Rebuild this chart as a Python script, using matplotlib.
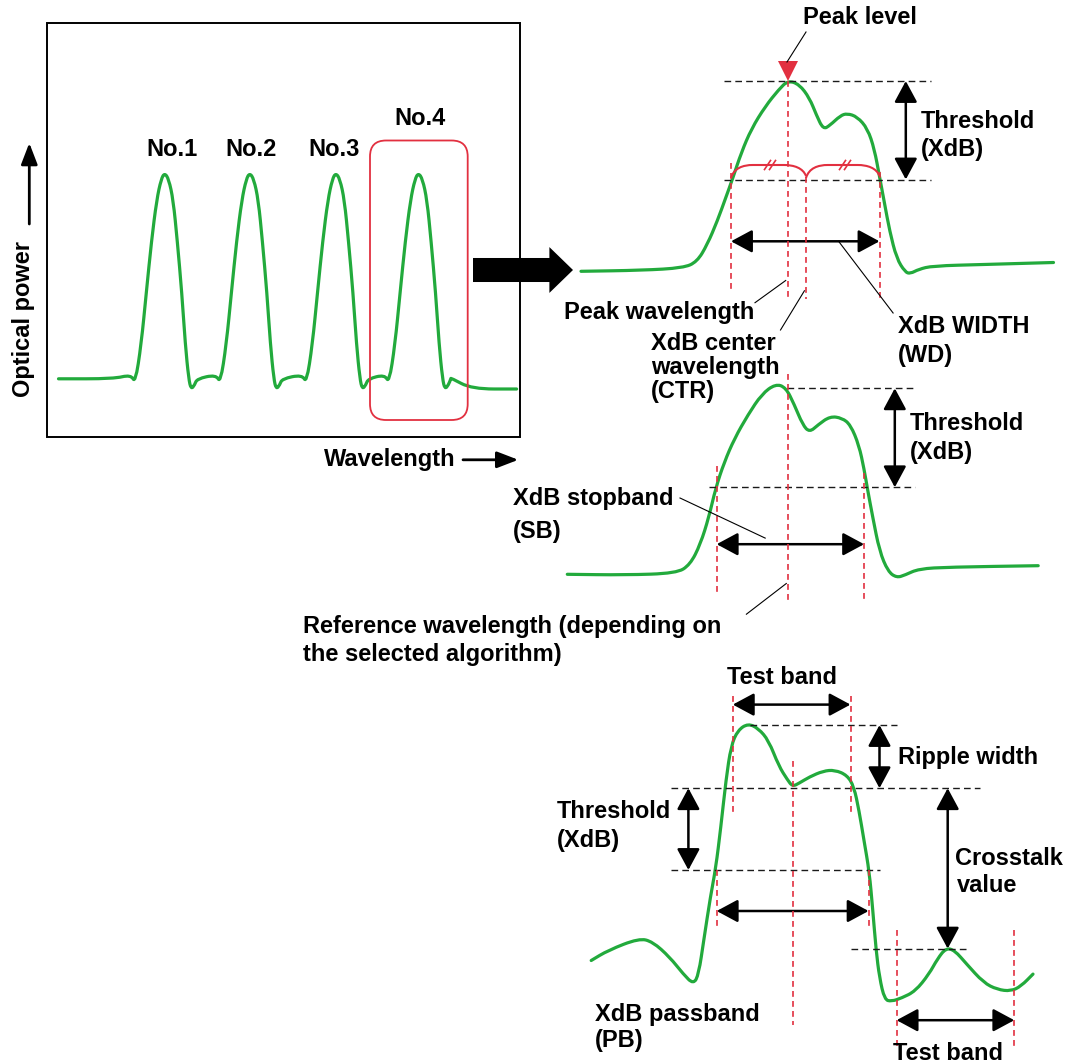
import matplotlib
matplotlib.use("Agg")
import matplotlib.pyplot as plt
from matplotlib.path import Path
from matplotlib.patches import PathPatch, FancyArrowPatch, FancyBboxPatch, Rectangle

plt.rcParams['font.family'] = ['Liberation Sans', 'DejaVu Sans']

# ---------------- data (pixel-space diagram) ----------------
# Left overview spectrum: 4 channel peaks
PEAK_LABELS = ["No.1", "No.2", "No.3", "No.4"]
PEAK_CENTERS = [164.6, 249.7, 335.8, 418.4]
PROFILE_DX = [-33.7, -29.3, -23.4, -18.3, -13.1, -7.9, -3.4, 0.0, 4.1, 8.6, 12.7, 17.2, 20.7, 24.1, 26.5, 30.0, 32.4]
PROFILE_Y = [374.7, 383.0, 344.4, 292.7, 241.0, 199.8, 179.0, 173.0, 179.0, 199.8, 241.0, 292.7, 344.4, 378.8, 389.2, 385.0, 378.8]
LEAD_X = [58.5, 113.6]
LEAD_Y = [378.8, 378.8]
TAIL_X = [451.0, 471.8, 516.6]
TAIL_Y = [378.0, 389.0, 389.0]

# Panel A: peak / XdB width
A_X = [581, 642.4, 683.3, 697, 707.2, 717.4, 726, 732.8, 741.3, 751.5, 765.2, 778.8, 788, 799.3, 809.5,
       816.4, 823.2, 830, 840.3, 847.1, 857.3, 867.6, 874.4, 879.5, 884.6, 889.7, 896.6, 905.1, 910.2,
       918.7, 932.4, 983.6, 1053.5]
A_Y = [271.3, 270.3, 267.9, 261.8, 244.7, 220.8, 197, 178.2, 152.6, 128.7, 106.5, 89.5, 80.5, 84.4, 98,
       115, 129.4, 125.3, 115.7, 113.4, 116.8, 128.7, 149.2, 176.5, 203.8, 231.1, 258.4, 272, 273.7,
       269.3, 265.9, 264.5, 262.5]

# Panel B: stopband
B_X = [567.3, 625.3, 676.5, 690.1, 700.4, 708.9, 715.7, 724.2, 734.5, 748.1, 761.8, 775.4, 785.7, 794.2,
       802.7, 809.5, 818.1, 830, 842, 850.5, 859, 864.1, 867.6, 872.7, 879.5, 888, 896.6, 905.1, 918.7,
       949.4, 1038.2]
B_Y = [574.3, 575, 573.3, 564.7, 544.2, 517, 488, 462.4, 438.5, 414.6, 394.1, 384.0, 387.3, 404.4,
       424.8, 432.3, 424.8, 416.3, 418, 424.8, 445.3, 469.2, 489.7, 517, 551.1, 571.5, 577.7, 575, 568.8,
       567.1, 565.7]

# Panel C: passband / ripple / crosstalk
C_X = [591.2, 608.2, 639, 652.6, 669.7, 683.3, 693.5, 698.7, 703.8, 710.6, 715.7, 720.8, 726, 731.1,
       737.9, 748.1, 758.4, 768.6, 778.8, 787.4, 792.5, 799.3, 809.5, 823.2, 834.8, 847.1, 853.9, 859,
       864.1, 869.3, 872.7, 876.1, 879.5, 884.6, 891.4, 901.7, 915.3, 929, 937.5, 946, 954.6, 966.5,
       983.6, 997.2, 1010.9, 1021.1, 1033]
C_Y = [960.5, 950.3, 938.3, 941.7, 957.1, 974.1, 984.4, 974.1, 940, 895.7, 868.4, 827.4, 779.7, 745.5,
       730.2, 723.5, 728.5, 740.4, 766, 779.7, 786.5, 783.1, 776.9, 771.0, 770.0, 775.2, 786.5, 810.4,
       841.1, 871.8, 909.3, 950.3, 977.6, 999.7, 1001.4, 998, 991.2, 974.1, 958.8, 948.0, 950.3, 963.9,
       982.7, 989.5, 991.2, 986.1, 974.1]

GREEN = '#22aa3c'
RED = '#e23040'

# ---------------- figure ----------------
fig = plt.figure(figsize=(10.75, 10.64), dpi=100)
ax = fig.add_axes([0, 0, 1, 1])
ax.set_xlim(0, 1075)
ax.set_ylim(1064, 0)
ax.axis('off')

FS = 17.0


def smooth_curve(xs, ys, **kw):
    pts = list(zip(xs, ys))
    verts = [pts[0]]
    codes = [Path.MOVETO]
    mids = [((pts[i][0] + pts[i + 1][0]) / 2, (pts[i][1] + pts[i + 1][1]) / 2) for i in range(len(pts) - 1)]
    verts.append(mids[0]); codes.append(Path.LINETO)
    for i in range(1, len(pts) - 1):
        verts += [pts[i], mids[i]]
        codes += [Path.CURVE3, Path.CURVE3]
    verts.append(pts[-1]); codes.append(Path.LINETO)
    ax.add_patch(PathPatch(Path(verts, codes), fill=False, **kw))


def darrow(p0, p1, lw=1.8):
    ax.add_patch(FancyArrowPatch(p0, p1, arrowstyle='<|-|>,head_length=13,head_width=7',
                                 mutation_scale=1, lw=lw, color='black', shrinkA=0, shrinkB=0))


def sarrow(p0, p1, lw=1.6):
    ax.add_patch(FancyArrowPatch(p0, p1, arrowstyle='-|>,head_length=13,head_width=5',
                                 mutation_scale=1, lw=lw, color='black', shrinkA=0, shrinkB=0))


def bdash(x0, x1, y):
    ax.plot([x0, x1], [y, y], color='#1a1a1a', lw=1.0, dashes=(4.8, 3.0))


def rdash(x, y0, y1):
    ax.plot([x, x], [y0, y1], color=RED, lw=1.2, dashes=(3.5, 2.5))


def leader(p0, p1):
    ax.plot([p0[0], p1[0]], [p0[1], p1[1]], color='black', lw=0.8)


def label(x, y, s, ha='left'):
    ax.text(x, y, s, ha=ha, va='center', fontsize=FS, fontweight='bold', color='black')


# ---------------- left overview panel ----------------
ax.add_patch(Rectangle((46.5, 23.4), 473.5, 413.6, fill=False, lw=1.4, edgecolor='black'))
lx = list(LEAD_X)
ly = list(LEAD_Y)
for c in PEAK_CENTERS:
    lx += [c + d for d in PROFILE_DX]
    ly += PROFILE_Y
lx += TAIL_X
ly += TAIL_Y
smooth_curve(lx, ly, edgecolor=GREEN, lw=2.3, joinstyle='round', capstyle='round')

ax.add_patch(FancyBboxPatch((370, 140.5), 97.7, 279.5, boxstyle='round,pad=0,rounding_size=16',
                            fill=False, edgecolor=RED, lw=1.3))
for lab, lxp, lyp in zip(PEAK_LABELS, [171.5, 251.4, 334, 420], [149.8, 149.8, 149.8, 118.8]):
    label(lxp, lyp, lab, ha='center')

ax.text(24, 318.6, "Optical power", rotation=90, ha='center', va='center', fontsize=FS, fontweight='bold')
sarrow((29.3, 224), (29.3, 143), lw=2)
label(390, 459.8, "Wavelength", ha='center')
sarrow((463, 459.8), (518.3, 459.8), lw=2)

# big transition arrow
ax.add_patch(FancyArrowPatch((473, 270), (573, 270),
                             arrowstyle='simple,head_length=17,head_width=33,tail_width=17.3',
                             mutation_scale=1, color='black', lw=0, shrinkA=0, shrinkB=0))

# ---------------- panel A ----------------
bdash(724, 931, 81)
bdash(724, 931, 179.5)
rdash(731, 163, 289)
rdash(788, 81, 298)
rdash(806, 177, 299)
rdash(879.5, 172, 298)
smooth_curve(A_X, A_Y, edgecolor=GREEN, lw=2.3, joinstyle='round', capstyle='round')
ax.plot([788], [71], marker='v', markersize=14, color=RED, markeredgewidth=0)
leader((806, 32), (787, 62))
label(860, 17, "Peak level", ha='center')

# brace
for xa, xb in [(731, 806), (806, 879.5)]:
    verts = [(xa, 178), (xa + 3, 168), (xa + 12, 165), (xa + 22, 165), (xb - 22, 165), (xb - 12, 165), (xb - 3, 168), (xb, 176)]
    codes = [Path.MOVETO, Path.CURVE4, Path.CURVE4, Path.CURVE4, Path.LINETO, Path.CURVE4, Path.CURVE4, Path.CURVE4]
    ax.add_patch(PathPatch(Path(verts, codes), fill=False, edgecolor=RED, lw=1.5))
for tx in [770, 845]:
    for off in (-2.5, 2.5):
        ax.plot([tx + off - 3, tx + off + 3], [169.5, 160.5], color=RED, lw=1.2)

darrow((905.8, 81), (905.8, 179.5))
label(920.4, 121.9, "Threshold")
label(920.4, 149.2, "(XdB)")
darrow((731, 241.3), (879.5, 241.3))
leader((838.6, 241.3), (893.1, 313))
label(898.3, 326.6, "XdB WIDTH")
label(898.3, 355.6, "(WD)")
leader((755, 302.7), (785.7, 280.5))
label(563.9, 313, "Peak wavelength")
leader((780.5, 330), (804.4, 290.8))
label(650.9, 343.7, "XdB center")
label(650.9, 367.5, "wavelength")
label(650.9, 391.5, "(CTR)")

# ---------------- panel B ----------------
bdash(787.4, 915.3, 388.3)
bdash(708.9, 915.3, 487.3)
rdash(716.7, 466, 592)
rdash(788, 374, 604)
rdash(864.1, 473, 602)
smooth_curve(B_X, B_Y, edgecolor=GREEN, lw=2.3, joinstyle='round', capstyle='round')
darrow((894.8, 388.3), (894.8, 487.3))
label(910.2, 423.1, "Threshold")
label(910.2, 452.1, "(XdB)")
darrow((716.7, 544.2), (864.1, 544.2))
leader((680, 498), (765.2, 538.1))
label(513.3, 498.3, "XdB stopband")
label(513.3, 531.7, "(SB)")
leader((746.4, 614.2), (786.3, 583.5))
label(303, 626.7, "Reference wavelength (depending on")
label(303, 655, "the selected algorithm)")

# ---------------- panel C ----------------
bdash(749.8, 896.6, 725)
bdash(671.4, 980.2, 788.2)
bdash(671.4, 879.5, 870)
bdash(850.5, 966.5, 948.6)
rdash(732.8, 696, 814)
rdash(850.5, 696, 814)
rdash(793.2, 761, 1025)
rdash(716.7, 870, 930)
rdash(868.6, 870, 930)
rdash(896.6, 930, 1049)
rdash(1014.3, 930, 1049)
smooth_curve(C_X, C_Y, edgecolor=GREEN, lw=2.3, joinstyle='round', capstyle='round')
darrow((732.8, 704.6), (850.5, 704.6))
darrow((879.5, 725), (879.5, 788.2))
darrow((688.4, 788.2), (688.4, 870))
darrow((947.7, 788.2), (947.7, 948.6))
darrow((716.7, 911), (868.6, 911))
darrow((896.6, 1020.2), (1014.3, 1020.2))
label(782.3, 677.3, "Test band", ha='center')
label(898.3, 757.5, "Ripple width")
label(557, 812, "Threshold")
label(557, 841, "(XdB)")
label(954.6, 858.1, "Crosstalk")
label(957, 885.4, "value")
label(594.6, 1015, "XdB passband")
label(594.6, 1040.7, "(PB)")
label(947.7, 1053, "Test band", ha='center')

fig.savefig("out.png", dpi=100)
